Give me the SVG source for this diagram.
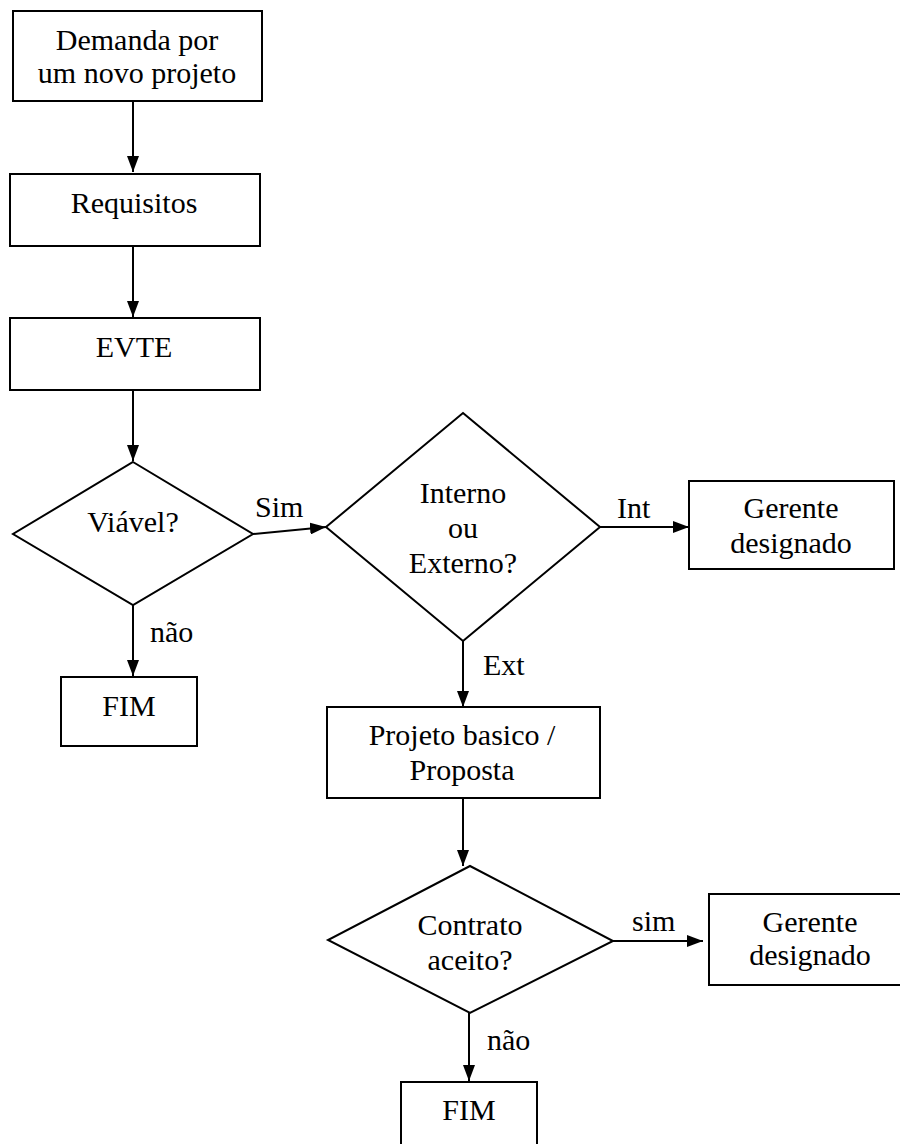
<svg xmlns="http://www.w3.org/2000/svg" width="900" height="1144" viewBox="0 0 900 1144">
<style>
.b{fill:#fff;stroke:#000;stroke-width:2}
.t{font-family:"Liberation Serif","Times New Roman",serif;font-size:30px;fill:#000;text-anchor:middle}
.l{font-family:"Liberation Serif","Times New Roman",serif;font-size:30px;fill:#000}
.c{fill:none;stroke:#000;stroke-width:2}
</style>
<defs>
<marker id="ah" viewBox="0 0 16 12" refX="16" refY="6" markerWidth="16" markerHeight="12" markerUnits="userSpaceOnUse" orient="auto">
<path d="M0,0 L16,6 L0,12 z" fill="#000"/>
</marker>
</defs>
<rect width="900" height="1144" fill="#fff"/>
<g id="connectors">
<line class="c" x1="133" y1="101" x2="133" y2="172" marker-end="url(#ah)"/>
<line class="c" x1="133" y1="246" x2="133" y2="317" marker-end="url(#ah)"/>
<line class="c" x1="133" y1="390" x2="133" y2="461" marker-end="url(#ah)"/>
<line class="c" x1="253" y1="534" x2="326" y2="527" marker-end="url(#ah)"/>
<line class="c" x1="133" y1="605" x2="133" y2="676" marker-end="url(#ah)"/>
<line class="c" x1="600" y1="527" x2="689" y2="527" marker-end="url(#ah)"/>
<line class="c" x1="463" y1="641" x2="463" y2="707" marker-end="url(#ah)"/>
<line class="c" x1="463" y1="798" x2="463" y2="866" marker-end="url(#ah)"/>
<line class="c" x1="613" y1="941" x2="703" y2="941" marker-end="url(#ah)"/>
<line class="c" x1="469" y1="1013" x2="469" y2="1081" marker-end="url(#ah)"/>
<text class="l" x="255" y="517">Sim</text>
<text class="l" x="150" y="642">não</text>
<text class="l" x="617" y="518">Int</text>
<text class="l" x="483" y="675">Ext</text>
<text class="l" x="632" y="931">sim</text>
<text class="l" x="487" y="1050">não</text>
</g>
<g id="n1">
<rect class="b" x="13" y="11" width="249" height="90"/>
<text class="t" x="137" y="50">Demanda por</text>
<text class="t" x="137" y="83">um novo projeto</text>
</g>
<g id="n2">
<rect class="b" x="10" y="174" width="250" height="72"/>
<text class="t" x="134" y="213">Requisitos</text>
</g>
<g id="n3">
<rect class="b" x="10" y="318" width="250" height="72"/>
<text class="t" x="134" y="357">EVTE</text>
</g>
<g id="d1">
<polygon class="b" points="133,462 253,534 133,605 13,534"/>
<text class="t" x="133" y="532">Viável?</text>
</g>
<g id="fim1">
<rect class="b" x="61" y="677" width="136" height="69"/>
<text class="t" x="129" y="716">FIM</text>
</g>
<g id="d2">
<polygon class="b" points="463,413 600,527 463,641 326,527"/>
<text class="t" x="463" y="503">Interno</text>
<text class="t" x="463" y="538">ou</text>
<text class="t" x="463" y="573">Externo?</text>
</g>
<g id="g1">
<rect class="b" x="689" y="481" width="205" height="88"/>
<text class="t" x="791" y="518">Gerente</text>
<text class="t" x="791" y="553">designado</text>
</g>
<g id="pb">
<rect class="b" x="327" y="707" width="273" height="91"/>
<text class="t" x="462" y="745">Projeto basico /</text>
<text class="t" x="462" y="780">Proposta</text>
</g>
<g id="d3">
<polygon class="b" points="470,866 613,941 470,1013 328,940"/>
<text class="t" x="470" y="935">Contrato</text>
<text class="t" x="470" y="970">aceito?</text>
</g>
<g id="g2">
<rect class="b" x="709" y="894" width="202" height="91"/>
<text class="t" x="810" y="932">Gerente</text>
<text class="t" x="810" y="965">designado</text>
</g>
<g id="fim2">
<rect class="b" x="401" y="1082" width="136" height="80"/>
<text class="t" x="469" y="1120">FIM</text>
</g>
</svg>
